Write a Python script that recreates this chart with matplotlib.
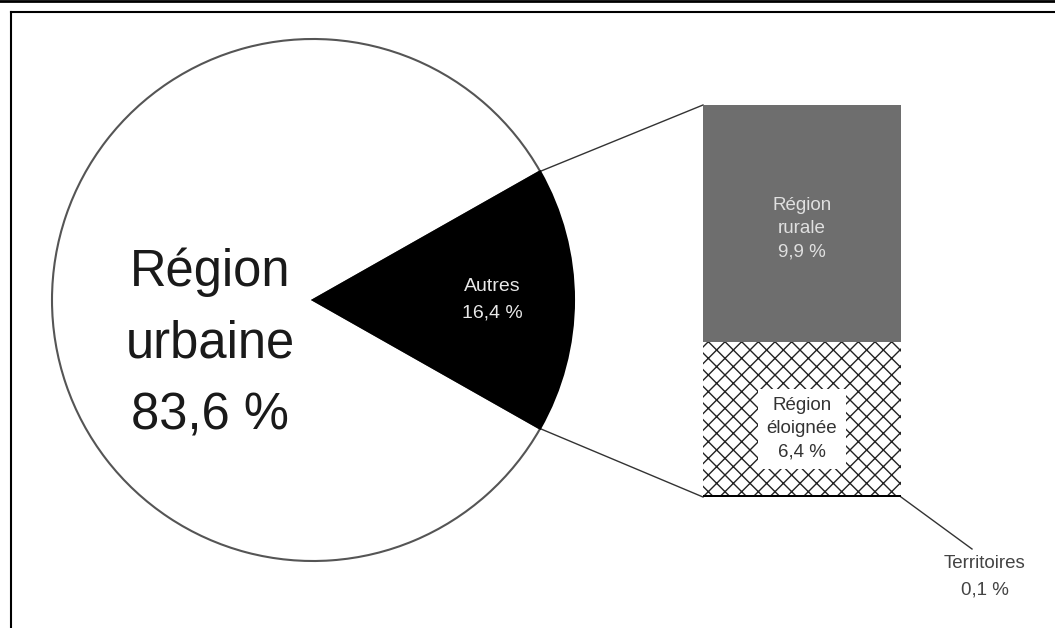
import matplotlib.pyplot as plt
import numpy as np

plt.rcParams['font.family'] = ['Liberation Sans', 'DejaVu Sans']
plt.rcParams['hatch.linewidth'] = 1.0

# données
pie_labels = ['Autres', 'Région urbaine']
pie_values = [16.4, 83.6]
bar_labels = ['Territoires', 'Région éloignée', 'Région rurale']
bar_values = [0.1, 6.4, 9.9]

W, H = 1055, 628
fig = plt.figure(figsize=(W / 100, H / 100), dpi=100)
ax = fig.add_axes([0, 0, 1, 1])

# camembert (coordonnées en pixels, y vers le haut)
cx, cy, r = 313, H - 300, 261
half = pie_values[0] / 100 * 360 / 2
wedges, _ = ax.pie(pie_values, colors=['black', 'white'], startangle=-half,
                   center=(cx, cy), radius=r, frame=True,
                   wedgeprops=dict(edgecolor='#555555', linewidth=1.5))
wedges[0].set_edgecolor('black')
wedges[0].set_zorder(3)
ax.set_xlim(0, W)
ax.set_ylim(0, H)
ax.set_aspect('auto')
ax.axis('off')


def fmt(v):
    return str(v).replace('.', ',') + ' %'


ax.text(210, H - 344, 'Région\nurbaine\n' + fmt(pie_values[1]),
        ha='center', va='center', fontsize=36.5, color='#1a1a1a', linespacing=1.6)
ax.text(492, H - 300, pie_labels[0] + '\n' + fmt(pie_values[0]),
        ha='center', va='center', fontsize=14, color='#e8e8e8', linespacing=1.7,
        zorder=5)

# barre empilée
bx0, bx1, by0, by1 = 703, 901, 497, 105
bax = fig.add_axes([bx0 / W, (H - by0) / H, (bx1 - bx0) / W, (by0 - by1) / H])
total = sum(bar_values)
colors = ['black', 'white', '#6e6e6e']
hatches = [None, 'xx', None]
bottom = 0
for lab, v, c, h in zip(bar_labels, bar_values, colors, hatches):
    bax.bar(0.5, v, width=1, bottom=bottom, color=c, hatch=h,
            edgecolor='#222222' if h else c, linewidth=0)
    bottom += v
bax.set_xlim(0, 1)
bax.set_ylim(0, total)
bax.axis('off')

bax.text(0.5, bar_values[0] + bar_values[1] + bar_values[2] * 0.476,
         'Région\nrurale\n' + fmt(bar_values[2]),
         ha='center', va='center', fontsize=13.5, color='#e0e0e0', linespacing=1.5)
bax.text(0.5, bar_values[0] + bar_values[1] * 0.43,
         'Région\néloignée\n' + fmt(bar_values[1]),
         ha='center', va='center', fontsize=13.5, color='#333333', linespacing=1.5,
         bbox=dict(facecolor='white', edgecolor='none', pad=6))

# lignes de liaison
a = np.deg2rad(half)
ex, ey = cx + r * np.cos(a), r * np.sin(a)
ax.plot([ex, bx0], [cy + ey, H - by1], color='#333333', lw=1)
ax.plot([ex, bx0], [cy - ey, H - by0], color='#333333', lw=1)
ax.plot([bx1, 972], [H - by0, H - 549], color='#333333', lw=1)
ax.text(985, H - 577, bar_labels[0] + '\n' + fmt(bar_values[0]), ha='center',
        va='center', fontsize=13.5, color='#444444', linespacing=1.7)

# cadre
ax.plot([0, W], [H - 1, H - 1], color='black', lw=2)
ax.plot([10.5, W], [H - 11.5, H - 11.5], color='black', lw=1.5)
ax.plot([10.5, 10.5], [0, H - 11.5], color='black', lw=1.5)

fig.savefig('out.png', dpi=100)
